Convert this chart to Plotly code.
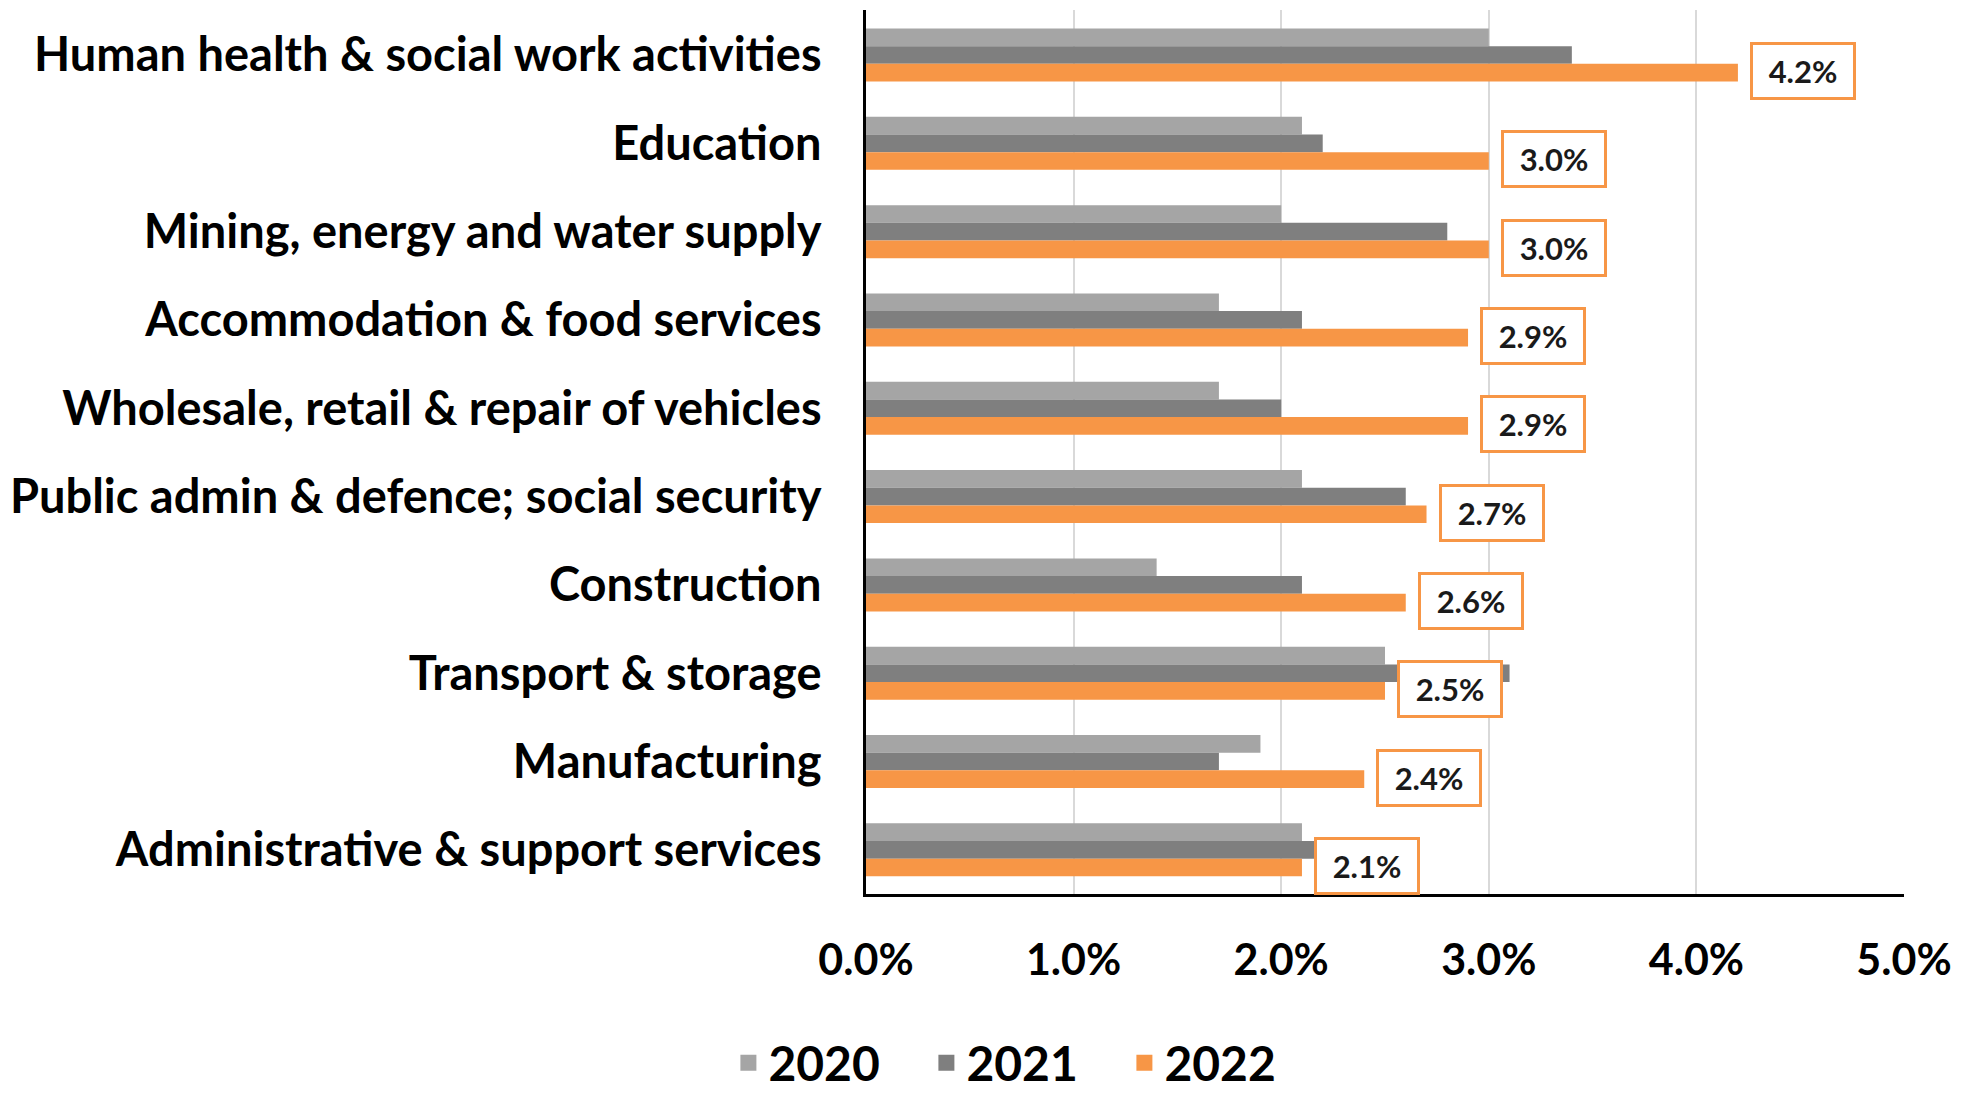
import plotly.graph_objects as go

sectores = [
    "Human health & social work activities",
    "Education",
    "Mining, energy and water supply",
    "Accommodation & food services",
    "Wholesale, retail & repair of vehicles",
    "Public admin & defence; social security",
    "Construction",
    "Transport & storage",
    "Manufacturing",
    "Administrative & support services",
]
v2020 = [3.0, 2.1, 2.0, 1.7, 1.7, 2.1, 1.4, 2.5, 1.9, 2.1]
v2021 = [3.4, 2.2, 2.8, 2.1, 2.0, 2.6, 2.1, 3.1, 1.7, 2.2]
v2022 = [4.2, 3.0, 3.0, 2.9, 2.9, 2.7, 2.6, 2.5, 2.4, 2.1]
anios = ["2020", "2021", "2022"]
colores = ["#A5A5A5", "#7F7F7F", "#F79646"]

FUENTE = "Lato"

fig = go.Figure()
for anio, valores, color in zip(anios, [v2020, v2021, v2022], colores):
    fig.add_trace(go.Bar(
        y=sectores,
        x=valores,
        name=anio,
        orientation="h",
        marker_color=color,
        marker_line_width=0,
        showlegend=False,
    ))
    # traza vacía solo para la leyenda (cuadro más grande)
    fig.add_trace(go.Scatter(
        x=[None], y=[None],
        mode="markers",
        name=anio,
        marker=dict(symbol="square", size=30, color=color),
    ))

# etiquetas con recuadro naranja para 2022
for sector, val in zip(sectores, v2022):
    fig.add_annotation(
        x=val, y=sector,
        text=f"{val:.1f}%",
        showarrow=False,
        xanchor="left",
        xshift=12,
        yshift=-16,
        font=dict(family=FUENTE, size=31, color="#1a1a1a", weight="bold"),
        bgcolor="white",
        bordercolor="#F79646",
        borderwidth=3,
        borderpad=4,
        width=92,
        height=44,
    )

# el body del html tiene 8px de margen, se descuenta del tamaño
fig.update_layout(
    barmode="group",
    bargap=0.4,
    bargroupgap=0,
    width=1971,
    height=1085,
    plot_bgcolor="white",
    paper_bgcolor="white",
    margin=dict(l=858, r=75, t=2, b=199),
    font=dict(family=FUENTE, color="black"),
    legend=dict(
        orientation="h",
        xref="container", yref="container",
        x=0.3655, y=0.0276,
        xanchor="left", yanchor="middle",
        font=dict(family=FUENTE, size=48, weight="bold"),
        itemwidth=30,
        itemsizing="trace",
        entrywidth=153,
        entrywidthmode="pixels",
    ),
)
fig.update_xaxes(
    range=[0, 5],
    dtick=1,
    tickformat=".1f",
    ticksuffix="%",
    showgrid=True,
    gridcolor="#D9D9D9",
    gridwidth=1.5,
    showline=True,
    linecolor="black",
    linewidth=3,
    zeroline=False,
    ticklabelstandoff=26,
    tickfont=dict(family=FUENTE, size=43, weight="bold"),
)
fig.update_yaxes(
    autorange="reversed",
    showline=True,
    linecolor="black",
    linewidth=3,
    showgrid=False,
    ticklabelstandoff=32,
    tickfont=dict(family=FUENTE, size=47, weight="bold"),
)

fig.write_html("out.html")
